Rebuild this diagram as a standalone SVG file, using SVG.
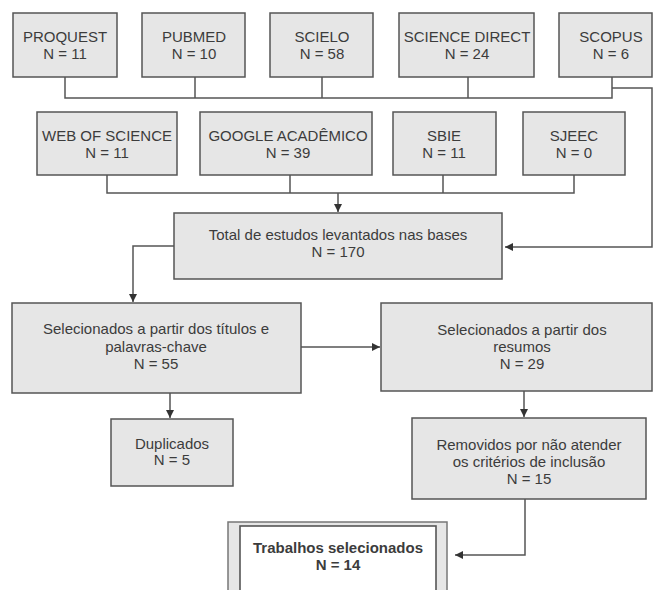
<svg xmlns="http://www.w3.org/2000/svg" width="654" height="590" viewBox="0 0 654 590">
<style>
.box{fill:#e6e6e6;stroke:#555;stroke-width:1.5}
.t{font-family:"Liberation Sans",Arial,sans-serif;font-size:15px;fill:#3c3c3c;text-anchor:middle}
.b{font-weight:bold}
.ln{fill:none;stroke:#555;stroke-width:1.5}
.ar{fill:none;stroke:#555;stroke-width:1.5;marker-end:url(#ah)}
</style>
<defs>
<marker id="ah" viewBox="0 0 10 10" refX="10" refY="5" markerWidth="8" markerHeight="8" markerUnits="userSpaceOnUse" orient="auto">
<path d="M0,0 L10,5 L0,10 z" fill="#333"/>
</marker>
</defs>
<rect width="654" height="590" fill="#fff"/>
<g id="connectors">
<polyline class="ln" points="65,77 65,98 612,98 612,77"/>
<line class="ln" x1="195" y1="77" x2="195" y2="98"/>
<line class="ln" x1="322" y1="77" x2="322" y2="98"/>
<line class="ln" x1="468" y1="77" x2="468" y2="98"/>
<polyline class="ar" points="612,88 652,88 652,247 505,247"/>
<polyline class="ln" points="107,175 107,193 574,193 574,175"/>
<line class="ln" x1="290" y1="175" x2="290" y2="193"/>
<line class="ln" x1="443" y1="175" x2="443" y2="193"/>
<line class="ar" x1="338" y1="193" x2="338" y2="212"/>
<polyline class="ar" points="174,246 133,246 133,302"/>
<line class="ar" x1="301" y1="347" x2="380" y2="347"/>
<line class="ar" x1="170" y1="393" x2="170" y2="418"/>
<line class="ar" x1="524" y1="391" x2="524" y2="417"/>
<polyline class="ar" points="525,499 525,555 455,555"/>
</g>
<g id="proquest"><rect class="box" x="13" y="13" width="104" height="64"/><text class="t" x="65" y="42">PROQUEST</text><text class="t" x="65" y="59">N = 11</text></g>
<g id="pubmed"><rect class="box" x="142" y="13" width="103" height="64"/><text class="t" x="194" y="42">PUBMED</text><text class="t" x="194" y="59">N = 10</text></g>
<g id="scielo"><rect class="box" x="270" y="13" width="103" height="64"/><text class="t" x="322" y="42">SCIELO</text><text class="t" x="322" y="59">N = 58</text></g>
<g id="sciencedirect"><rect class="box" x="399" y="13" width="135" height="64"/><text class="t" x="467" y="42">SCIENCE DIRECT</text><text class="t" x="467" y="59">N = 24</text></g>
<g id="scopus"><rect class="box" x="559" y="13" width="93" height="64"/><text class="t" x="611" y="42">SCOPUS</text><text class="t" x="611" y="59">N = 6</text></g>
<g id="webofscience"><rect class="box" x="37" y="112" width="140" height="63"/><text class="t" x="107" y="141">WEB OF SCIENCE</text><text class="t" x="107" y="158">N = 11</text></g>
<g id="google"><rect class="box" x="200" y="112" width="172" height="63"/><text class="t" x="288" y="141">GOOGLE ACADÊMICO</text><text class="t" x="288" y="158">N = 39</text></g>
<g id="sbie"><rect class="box" x="393" y="112" width="103" height="63"/><text class="t" x="444" y="141">SBIE</text><text class="t" x="444" y="158">N = 11</text></g>
<g id="sjeec"><rect class="box" x="523" y="112" width="102" height="63"/><text class="t" x="574" y="141">SJEEC</text><text class="t" x="574" y="158">N = 0</text></g>
<g id="total"><rect class="box" x="174" y="213" width="328" height="66"/><text class="t" x="338" y="240">Total de estudos levantados nas bases</text><text class="t" x="338" y="257">N = 170</text></g>
<g id="titulos"><rect class="box" x="12" y="303" width="289" height="90"/><text class="t" x="156" y="334">Selecionados a partir dos títulos e</text><text class="t" x="156" y="352">palavras-chave</text><text class="t" x="156" y="369">N = 55</text></g>
<g id="resumos"><rect class="box" x="381" y="303" width="271" height="88"/><text class="t" x="522" y="335">Selecionados a partir dos</text><text class="t" x="522" y="352">resumos</text><text class="t" x="522" y="369">N = 29</text></g>
<g id="duplicados"><rect class="box" x="111" y="419" width="122" height="67"/><text class="t" x="172" y="449">Duplicados</text><text class="t" x="172" y="465">N = 5</text></g>
<g id="removidos"><rect class="box" x="412" y="418" width="234" height="81"/><text class="t" x="529" y="450">Removidos por não atender</text><text class="t" x="529" y="467">os critérios de inclusão</text><text class="t" x="529" y="484">N = 15</text></g>
<g id="trabalhos"><rect x="228" y="522" width="219" height="80" fill="#e6e6e6" stroke="#777" stroke-width="1.5"/><rect x="240" y="526" width="196" height="76" fill="#fff" stroke="#555" stroke-width="1.6"/><text class="t b" x="338" y="553">Trabalhos selecionados</text><text class="t b" x="338" y="570">N = 14</text></g>
</svg>
